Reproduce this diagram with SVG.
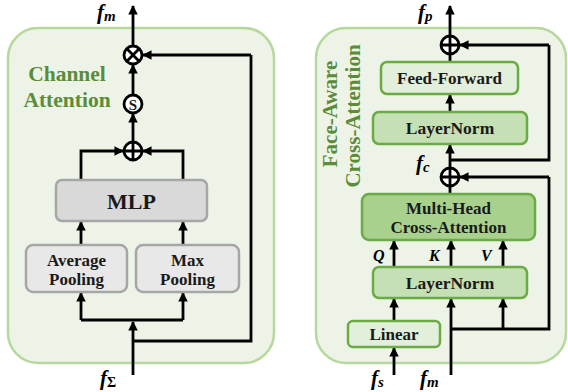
<svg xmlns="http://www.w3.org/2000/svg" width="568" height="392" viewBox="0 0 568 392">
<style>
.panel{fill:#edf4e7;stroke:#b5d89c;stroke-width:2.5}
.ln{fill:none;stroke:#000;stroke-width:2.8}
.lnA{fill:none;stroke:#000;stroke-width:2.8;marker-end:url(#ah)}
.op{fill:#fff;stroke:#000;stroke-width:2.8}
.gbox{fill:#e8e8e8;stroke:#a6a6a6;stroke-width:2.5}
.t{font-family:"Liberation Serif",serif;font-weight:bold;fill:#1a1a1a;text-anchor:middle}
.math{font-family:"Liberation Serif",serif;font-weight:bold;font-style:italic;fill:#000}
.green{font-family:"Liberation Serif",serif;font-weight:bold;fill:#5b8c3a}
.b1{fill:#e2efda;stroke:#6aab44;stroke-width:2.5}
.b2{fill:#c5e0b4;stroke:#6aab44;stroke-width:2.5}
.b3{fill:#a9d18e;stroke:#6aab44;stroke-width:2.5}
</style>
<defs>
<marker id="ah" viewBox="0 0 10 10" refX="9" refY="5" markerWidth="3.4" markerHeight="3.4" orient="auto" markerUnits="strokeWidth">
<path d="M0,0 L10,5 L0,10 z" fill="#000"/>
</marker>
</defs>

<g id="panel-left"><rect class="panel" x="8" y="28" width="266" height="335" rx="30"/></g>
<g id="panel-right"><rect class="panel" x="316" y="28" width="250" height="335" rx="30"/></g>

<g id="connectors">
<!-- left -->
<path class="lnA" d="M133,375 V322"/>
<path class="ln" d="M133,341 H251 V55"/>
<path class="lnA" d="M251,55 H143"/>
<path class="ln" d="M81,320 H183"/>
<path class="lnA" d="M81,320 V293"/>
<path class="lnA" d="M183,320 V293"/>
<path class="lnA" d="M81,244 V222"/>
<path class="lnA" d="M183,244 V222"/>
<path class="lnA" d="M81,179 V151 H123"/>
<path class="lnA" d="M183,179 V151 H143"/>
<path class="lnA" d="M133,142 V114"/>
<path class="lnA" d="M133,95 V65"/>
<path class="lnA" d="M133,46 V6"/>
<!-- right -->
<path class="lnA" d="M394,375 V348"/>
<path class="lnA" d="M394,321 V299"/>
<path class="lnA" d="M451,375 V299"/>
<path class="ln" d="M451,329 H549 V177"/>
<path class="lnA" d="M549,177 H460"/>
<path class="lnA" d="M503,329 V299"/>
<path class="lnA" d="M394,266 V241"/>
<path class="lnA" d="M451,266 V241"/>
<path class="lnA" d="M503,266 V241"/>
<path class="ln" d="M450,194 V186"/>
<path class="lnA" d="M450,168 V145"/>
<path class="ln" d="M450,160 H549 V45"/>
<path class="lnA" d="M549,45 H460"/>
<path class="lnA" d="M450,111 V95"/>
<path class="ln" d="M450,62 V54"/>
<path class="lnA" d="M450,36 V6"/>
</g>

<g id="channel-label">
<text class="green" x="67" y="81" font-size="21.5" text-anchor="middle">Channel</text>
<text class="green" x="67" y="107" font-size="21.5" text-anchor="middle">Attention</text>
</g>

<g id="mul-op">
<circle class="op" cx="133" cy="55" r="9"/>
<path class="ln" d="M126.6,48.6 L139.4,61.4 M139.4,48.6 L126.6,61.4" stroke-width="2.4"/>
</g>
<g id="sigmoid-op">
<circle class="op" cx="133" cy="104" r="9"/>
<text class="t" x="133" y="109.5" font-size="15" fill="#000">S</text>
</g>
<g id="add-op-left">
<circle class="op" cx="133" cy="151" r="9"/>
<path class="ln" d="M124,151 H142 M133,142 V160" stroke-width="2.4"/>
</g>
<g id="mlp">
<rect class="gbox" x="56" y="180" width="151" height="41" rx="6" style="fill:#d9d9d9"/>
<text class="t" x="131.5" y="208.5" font-size="22">MLP</text>
</g>
<g id="avg-pool">
<rect class="gbox" x="26" y="245" width="101" height="47" rx="7"/>
<text class="t" x="76.5" y="266" font-size="17">Average</text>
<text class="t" x="76.5" y="285" font-size="17">Pooling</text>
</g>
<g id="max-pool">
<rect class="gbox" x="136" y="245" width="103" height="47" rx="7"/>
<text class="t" x="187.5" y="266" font-size="17">Max</text>
<text class="t" x="187.5" y="285" font-size="17">Pooling</text>
</g>
<g id="left-labels">
<text class="math" x="97" y="19" font-size="21">f<tspan font-size="15" dy="2">m</tspan></text>
<text class="math" x="100" y="385" font-size="21">f<tspan font-size="14" dy="2" font-style="normal">Σ</tspan></text>
</g>

<!-- right panel -->
<g id="fa-label">
<text class="green" font-size="21" text-anchor="middle" transform="translate(337,114) rotate(-90)">Face-Aware</text>
<text class="green" font-size="21" text-anchor="middle" transform="translate(360,116) rotate(-90)">Cross-Attention</text>
</g>
<g id="add-op-top">
<circle class="op" cx="450" cy="45" r="9"/>
<path class="ln" d="M441,45 H459 M450,36 V54" stroke-width="2.4"/>
</g>
<g id="feed-forward">
<rect class="b1" x="381" y="62" width="137" height="32" rx="6"/>
<text class="t" x="449.5" y="84" font-size="17">Feed-Forward</text>
</g>
<g id="layernorm-top">
<rect class="b2" x="373" y="112" width="154" height="32" rx="6"/>
<text class="t" x="450" y="134" font-size="17.5">LayerNorm</text>
</g>
<g id="add-op-mid">
<circle class="op" cx="450" cy="177" r="9"/>
<path class="ln" d="M441,177 H459 M450,168 V186" stroke-width="2.4"/>
</g>
<g id="mhca">
<rect class="b3" x="362" y="194" width="173" height="46" rx="7"/>
<text class="t" x="448.5" y="214" font-size="17">Multi-Head</text>
<text class="t" x="448.5" y="233" font-size="17">Cross-Attention</text>
</g>
<g id="layernorm-bottom">
<rect class="b2" x="373" y="267" width="154" height="31" rx="6"/>
<text class="t" x="450" y="289" font-size="17.5">LayerNorm</text>
</g>
<g id="linear">
<rect class="b1" x="348" y="321" width="92" height="26" rx="5"/>
<text class="t" x="394" y="340" font-size="17">Linear</text>
</g>
<g id="right-labels">
<text class="math" x="418" y="19" font-size="21">f<tspan font-size="15" dy="2">p</tspan></text>
<text class="math" x="416" y="170" font-size="21">f<tspan font-size="15" dy="2">c</tspan></text>
<text class="math" x="373" y="261" font-size="16">Q</text>
<text class="math" x="429" y="261" font-size="16">K</text>
<text class="math" x="481" y="261" font-size="16">V</text>
<text class="math" x="371" y="385" font-size="21">f<tspan font-size="15" dy="2">s</tspan></text>
<text class="math" x="420" y="385" font-size="21">f<tspan font-size="15" dy="2">m</tspan></text>
</g>
</svg>
